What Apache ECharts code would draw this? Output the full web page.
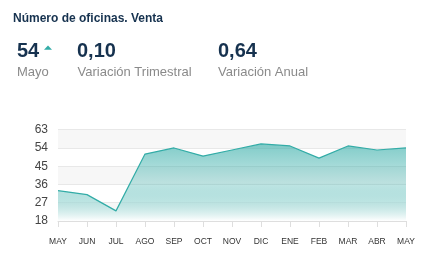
<!DOCTYPE html>
<html>
<head>
<meta charset="utf-8">
<script src="https://cdn.jsdelivr.net/npm/echarts@6/dist/echarts.min.js"></script>
<style>
html,body{margin:0;padding:0;background:#fff;}
#c{width:430px;height:264px;}
</style>
</head>
<body>
<div id="c"></div>
<script>
var categories = ['MAY','JUN','JUL','AGO','SEP','OCT','NOV','DIC','ENE','FEB','MAR','ABR','MAY'];
var values = [33, 31, 23, 51, 54, 50, 53, 56, 55, 49, 55, 53, 54];
var yTicks = [18, 27, 36, 45, 54, 63];
var titleText = 'Número de oficinas. Venta';
var kpiValues = ['54', '0,10', '0,64'];
var kpiLabels = ['Mayo', 'Variación Trimestral', 'Variación Anual'];

var chart = echarts.init(document.getElementById('c'), null, {renderer:'canvas'});
var font = '"Liberation Sans", Arial, sans-serif';
var navy = '#16324f';
var teal = '#33aca7';

chart.setOption({
  animation: false,
  grid: {left: 58, right: 24, top: 129.7, bottom: 43},
  xAxis: {
    type: 'category',
    data: categories,
    boundaryGap: false,
    axisLine: {show: true, lineStyle: {color: '#dedede'}},
    axisTick: {show: true, length: 6, lineStyle: {color: '#dedede'}, alignWithLabel: true},
    axisLabel: {color: '#333', fontSize: 8.5, fontFamily: font, margin: 16, interval: 0}
  },
  yAxis: {
    type: 'value',
    min: yTicks[0],
    max: yTicks[yTicks.length - 1],
    interval: 9,
    axisLine: {show: false},
    axisTick: {show: false},
    axisLabel: {color: '#444', fontSize: 12, fontFamily: font, margin: 10},
    splitLine: {lineStyle: {color: '#e8e8e8'}},
    splitArea: {show: true, areaStyle: {color: ['#f7f7f7', '#ffffff']}}
  },
  series: [{
    type: 'line',
    data: values,
    symbol: 'none',
    lineStyle: {color: teal, width: 1.2},
    areaStyle: {
      opacity: 1,
      color: new echarts.graphic.LinearGradient(0, 0, 0, 1, [
        {offset: 0, color: 'rgba(51,172,167,0.62)'},
        {offset: 0.5, color: 'rgba(51,172,167,0.3)'},
        {offset: 1, color: 'rgba(255,255,255,1)'}
      ])
    }
  }],
  graphic: [
    {type: 'text', left: 13, top: 12.5, style: {text: titleText, font: 'bold 12px ' + font, fill: navy}},
    {type: 'text', left: 17, top: 41.5, style: {text: kpiValues[0], font: 'bold 20px ' + font, fill: navy}},
    {type: 'polygon', shape: {points: [[44, 49.7], [52, 49.7], [48, 45.5]]}, style: {fill: teal}},
    {type: 'text', left: 77, top: 41.5, style: {text: kpiValues[1], font: 'bold 20px ' + font, fill: navy}},
    {type: 'text', left: 218, top: 41.5, style: {text: kpiValues[2], font: 'bold 20px ' + font, fill: navy}},
    {type: 'text', left: 17, top: 66, style: {text: kpiLabels[0], font: '13px ' + font, fill: '#8a8a8a'}},
    {type: 'text', left: 77.5, top: 66, style: {text: kpiLabels[1], font: '13px ' + font, fill: '#8a8a8a'}},
    {type: 'text', left: 218, top: 66, style: {text: kpiLabels[2], font: '13px ' + font, fill: '#8a8a8a'}}
  ]
});
</script>
</body>
</html>
